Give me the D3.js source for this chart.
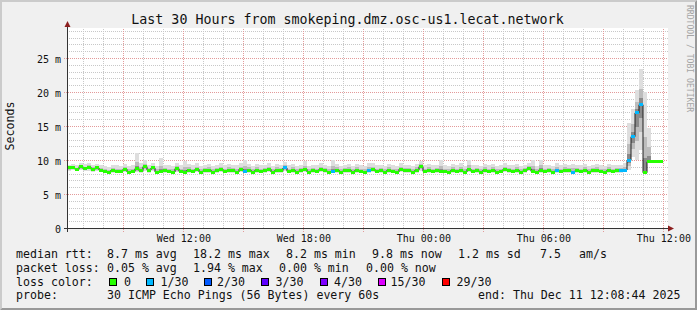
<!DOCTYPE html>
<html>
<head>
<meta charset="utf-8">
<script src="https://cdn.jsdelivr.net/npm/d3@7"></script>
<style>
  html, body { margin: 0; padding: 0; background: #f0f0f0; }
  svg { display: block; font-family: "DejaVu Sans Mono", monospace; }
</style>
</head>
<body>
<script>
// median rtt per 12 minute bin (ms)
var median = [
  8.9, 8.9, 8.7, 9.1, 8.8, 9.0, 8.7, 8.9, 8.6, 8.4,
  8.3, 8.6, 8.4, 8.4, 8.7, 8.3, 8.4, 8.8, 8.5, 9.1,
  8.6, 8.9, 8.3, 8.4, 8.5, 8.4, 8.3, 8.8, 8.4, 8.3,
  8.6, 8.4, 8.7, 8.3, 8.5, 8.6, 8.3, 8.5, 8.7, 8.4,
  8.6, 8.5, 8.3, 8.7, 8.4, 8.6, 8.3, 8.6, 8.4, 8.5,
  8.7, 8.3, 8.6, 8.5, 8.9, 8.4, 8.6, 8.3, 8.5, 8.7,
  8.3, 8.5, 8.4, 8.7, 8.5, 8.3, 8.4, 8.6, 8.3, 8.5,
  8.6, 8.3, 8.6, 8.4, 8.3, 8.5, 8.7, 8.4, 8.5, 8.3,
  8.6, 8.4, 8.3, 8.7, 8.5, 8.5, 8.3, 8.6, 9.1, 8.4,
  8.6, 8.4, 8.5, 8.4, 8.4, 8.3, 8.6, 8.4, 8.5, 8.3,
  8.7, 8.4, 8.5, 8.3, 8.6, 8.4, 8.6, 8.3, 8.4, 8.7,
  8.5, 8.4, 8.6, 8.3, 8.5, 8.8, 8.4, 8.3, 8.6, 8.4,
  8.5, 8.3, 8.5, 8.4, 8.6, 8.5, 8.3, 8.5, 8.4, 8.6,
  8.3, 8.5, 8.6, 8.4, 8.3, 8.6, 8.4, 8.5, 8.5, 8.6,
  10.0, 13.5, 17.0, 18.2, 8.2, 9.8, 9.8, 9.8, 9.8
];
// fastest ping per bin (ms)
var smokeLo = [
  8.5, 8.6, 8.4, 8.6, 8.4, 8.5, 8.3, 8.5, 8.3, 8.1,
  8.1, 8.2, 8.1, 8.1, 8.3, 8.0, 8.1, 8.3, 8.2, 8.4,
  8.2, 8.4, 8.1, 8.1, 8.2, 8.1, 8.0, 8.3, 8.1, 8.1,
  8.2, 8.1, 8.3, 8.1, 8.2, 8.2, 8.0, 8.2, 8.3, 8.1,
  8.2, 8.2, 8.0, 8.3, 8.1, 8.2, 8.1, 8.2, 8.1, 8.2,
  8.3, 8.1, 8.2, 8.2, 8.4, 8.1, 8.2, 8.0, 8.2, 8.3,
  8.1, 8.2, 8.1, 8.3, 8.2, 8.0, 8.1, 8.2, 8.1, 8.2,
  8.2, 8.0, 8.2, 8.1, 8.1, 8.2, 8.3, 8.1, 8.2, 8.0,
  8.2, 8.1, 8.0, 8.3, 8.2, 8.2, 8.1, 8.2, 8.5, 8.1,
  8.2, 8.1, 8.2, 8.1, 8.1, 8.0, 8.2, 8.1, 8.2, 8.1,
  8.3, 8.1, 8.2, 8.0, 8.2, 8.1, 8.2, 8.1, 8.1, 8.3,
  8.2, 8.1, 8.2, 8.1, 8.2, 8.4, 8.1, 8.0, 8.2, 8.1,
  8.2, 8.1, 8.2, 8.1, 8.2, 8.2, 8.0, 8.2, 8.1, 8.2,
  8.1, 8.2, 8.2, 8.1, 8.0, 8.2, 8.1, 8.2, 8.2, 8.3,
  8.6, 10.5, 10.0, 11.6, 8.0, 9.7, 9.7, 9.7, 9.7
];
// slowest ping per bin (ms)
var smokeHi = [
  9.4, 9.5, 9.3, 9.6, 9.5, 9.6, 9.4, 9.5, 9.3, 9.2,
  9.1, 9.4, 9.3, 9.2, 9.5, 9.2, 9.3, 11.1, 9.6, 10.1,
  9.4, 9.6, 9.2, 10.3, 9.4, 9.3, 9.2, 9.6, 9.3, 9.9,
  9.5, 9.3, 9.6, 9.2, 9.4, 9.5, 9.2, 9.4, 9.6, 9.3,
  9.5, 9.4, 9.3, 9.6, 10.0, 9.5, 9.2, 9.5, 9.3, 9.4,
  9.6, 9.2, 9.5, 9.4, 9.8, 9.3, 9.5, 9.2, 9.4, 9.9,
  9.2, 9.4, 9.3, 9.6, 9.4, 9.2, 10.0, 9.5, 9.2, 9.4,
  9.5, 9.2, 9.5, 9.3, 9.2, 9.7, 9.6, 9.3, 9.4, 9.2,
  9.5, 9.3, 9.2, 9.6, 9.4, 9.4, 9.2, 9.5, 9.9, 9.3,
  9.5, 9.3, 9.4, 10.1, 9.3, 9.2, 9.5, 9.3, 9.7, 9.2,
  10.1, 9.3, 9.4, 9.2, 9.5, 9.3, 9.5, 9.2, 9.3, 9.6,
  9.4, 9.3, 9.5, 9.2, 9.4, 9.7, 10.1, 9.2, 10.1, 9.3,
  9.4, 9.2, 9.6, 9.3, 9.5, 9.4, 9.5, 9.4, 9.3, 9.5,
  9.2, 9.4, 9.5, 9.3, 9.2, 9.5, 9.3, 9.4, 9.4, 9.6,
  15.5, 17.5, 20.4, 23.4, 20.0, 14.8, 10.0, 9.9, 9.9
];
// bins that lost pings, and how many of 30
var lossBin = [44, 54, 66, 75, 122, 126, 138, 139, 140, 141, 142, 143];
var lossPings = [1, 1, 1, 1, 1, 1, 1, 1, 1, 1, 1, 1];

var lossLevels = [0, 1, 2, 3, 4, 15, 29];
var lossLabels = ["0", "1/30", "2/30", "3/30", "4/30", "15/30", "29/30"];
var lossColors = ["#26ff00", "#00b8ff", "#0059ff", "#5e00ff", "#7e00ff", "#dd00ff", "#ff0000"];

var yTicks = [0, 5, 10, 15, 20, 25];

width = 697;
height = 310;
plot_left = 67;
plot_right = 667;
plot_top = 28.5;
plot_bottom = 228.5;

var t_start = new Date(2025, 11, 10, 6, 11);
var t_end = new Date(2025, 11, 11, 12, 11);
var bin_ms = 12 * 60 * 1000;

x = d3.scaleTime().domain([t_start, t_end]).range([plot_left, plot_right]);
y = d3.scaleLinear().domain([0, 29.41]).range([plot_bottom, plot_top]);
lossColor = d3.scaleThreshold().domain(lossLevels.slice(1)).range(lossColors);

var lossOf = {};
lossBin.forEach(function (b, i) { lossOf[b] = lossPings[i]; });

var bins = median.map(function (m, i) {
  var t = new Date(+t_start + i * bin_ms);
  return { t: t, t1: new Date(+t + bin_ms), med: m, lo: smokeLo[i], hi: smokeHi[i], loss: lossOf[i] || 0 };
});

const svg = d3.select("body").append("svg")
  .attr("width", width).attr("height", height);

// background + 3d shading
svg.append("rect").attr("width", width).attr("height", height).attr("fill", "#f0f0f0");
svg.append("path").attr("d", "M0,0H697L695,2H2V308L0,310Z").attr("fill", "#cbcbcb");
svg.append("path").attr("d", "M697,0V310H0L2,308H695V2Z").attr("fill", "#999999");

svg.append("rect")
  .attr("x", plot_left).attr("y", plot_top - 0.5)
  .attr("width", plot_right - plot_left + 1).attr("height", plot_bottom - plot_top + 0.5)
  .attr("fill", "#ffffff");

// grid
const grid = svg.append("g").attr("shape-rendering", "crispEdges");
function gx(t) { return Math.floor(x(t)) + 0.5; }

var hours = d3.timeHour.every(1).range(t_start, t_end);
var major_hours = d3.timeHour.every(3).range(t_start, t_end);
var label_hours = d3.timeHour.every(6).range(t_start, t_end);
var minor_ms = d3.range(1, 30).filter(function (v) { return v % 5; });
var major_ms = yTicks.filter(function (v) { return v > 0; });

grid.selectAll(".vminor").data(hours.filter(function (t) { return t.getHours() % 3; }))
  .join("line")
  .attr("x1", gx).attr("x2", gx)
  .attr("y1", plot_top).attr("y2", plot_bottom)
  .attr("stroke", "#c8c8c8").attr("stroke-dasharray", "1,1");
grid.selectAll(".hminor").data(minor_ms)
  .join("line")
  .attr("x1", plot_left).attr("x2", plot_right + 1)
  .attr("y1", function (d) { return y(d); }).attr("y2", function (d) { return y(d); })
  .attr("stroke", "#c8c8c8").attr("stroke-dasharray", "1,1");
grid.selectAll(".vmajor").data(major_hours)
  .join("line")
  .attr("x1", gx).attr("x2", gx)
  .attr("y1", plot_top).attr("y2", plot_bottom + 3)
  .attr("stroke", "#e39a9a").attr("stroke-dasharray", "1,1");
grid.selectAll(".hmajor").data(major_ms)
  .join("line")
  .attr("x1", plot_left - 3).attr("x2", plot_right + 1)
  .attr("y1", function (d) { return y(d); }).attr("y2", function (d) { return y(d); })
  .attr("stroke", "#e39a9a").attr("stroke-dasharray", "1,1");

// smoke
const smoke = svg.append("g").attr("shape-rendering", "crispEdges");
function bx(d) { return x(d.t); }
function bw(d) { return x(d.t1) - x(d.t); }
smoke.selectAll(".outer").data(bins).join("rect")
  .attr("x", bx).attr("width", bw)
  .attr("y", function (d) { return y(d.hi); })
  .attr("height", function (d) { return y(d.lo) - y(d.hi); })
  .attr("fill", "#dedede");
smoke.selectAll(".mid").data(bins).join("rect")
  .attr("x", bx).attr("width", bw)
  .attr("y", function (d) { return y(d.med + (d.hi - d.med) * 0.45); })
  .attr("height", function (d) { return y(d.med - (d.med - d.lo) * 0.6) - y(d.med + (d.hi - d.med) * 0.45); })
  .attr("fill", "#bcbcbc");
smoke.selectAll(".inner").data(bins).join("rect")
  .attr("x", bx).attr("width", bw)
  .attr("y", function (d) { return y(d.med + (d.hi - d.med) * 0.18); })
  .attr("height", function (d) { return y(d.med - (d.med - d.lo) * 0.3) - y(d.med + (d.hi - d.med) * 0.18); })
  .attr("fill", "#8a8a8a");

// median line
var line_pts = bins.map(function (d) { return [x(d.t), y(d.med)]; });
line_pts.push([x(bins[bins.length - 1].t1), y(bins[bins.length - 1].med)]);
svg.append("path")
  .attr("d", d3.line().curve(d3.curveStepAfter)(line_pts))
  .attr("fill", "none").attr("stroke", "#202020").attr("stroke-width", 1);

// loss coloured median band
svg.append("g").attr("shape-rendering", "crispEdges")
  .selectAll("rect").data(bins).join("rect")
  .attr("x", bx).attr("width", bw)
  .attr("y", function (d) { return y(d.med) - 1.5; })
  .attr("height", 3)
  .attr("fill", function (d) { return lossColor(d.loss); });

// axes lines + arrows
svg.append("line").attr("x1", plot_left - 3).attr("x2", plot_right + 3)
  .attr("y1", plot_bottom).attr("y2", plot_bottom)
  .attr("stroke", "#333").attr("shape-rendering", "crispEdges");
svg.append("line").attr("x1", plot_left + 0.5).attr("x2", plot_left + 0.5)
  .attr("y1", plot_bottom + 3).attr("y2", plot_top - 2)
  .attr("stroke", "#333").attr("shape-rendering", "crispEdges");
svg.append("path").attr("d", "M668,225.5L674,228.5L668,231.5Z").attr("fill", "#8c1f1f");
svg.append("path").attr("d", "M64.5,27L67.5,21L70.5,27Z").attr("fill", "#8c1f1f");

// tick labels
const xAxis = d3.axisBottom(x).tickValues(label_hours)
  .tickFormat(d3.timeFormat("%a %H:%M")).tickSize(0);
const gX = svg.append("g").attr("transform", "translate(0," + plot_bottom + ")").call(xAxis);
gX.select(".domain").remove();
gX.selectAll("text").attr("y", 13).attr("dy", 0)
  .attr("font-family", "DejaVu Sans Mono").attr("font-size", "10px").attr("fill", "#111");

const yAxis = d3.axisLeft(y).tickValues(yTicks)
  .tickFormat(function (d) { return d ? d + " m" : "0"; }).tickSize(0);
const gY = svg.append("g").attr("transform", "translate(61,0)").call(yAxis);
gY.select(".domain").remove();
gY.selectAll("text").attr("x", 0).attr("dy", "0.36em")
  .attr("font-family", "DejaVu Sans Mono").attr("font-size", "10px").attr("fill", "#111");

// title, y label, watermark
svg.append("text").attr("x", 347.5).attr("y", 24).attr("text-anchor", "middle")
  .attr("font-size", "13.3px").attr("fill", "#111")
  .text("Last 30 Hours from smokeping.dmz.osc-us1.lecat.network");
svg.append("text").attr("transform", "translate(14,126) rotate(-90)")
  .attr("text-anchor", "middle").attr("font-size", "11.6px").attr("fill", "#111")
  .text("Seconds");
svg.append("text").attr("transform", "translate(686.5,5) rotate(90)")
  .attr("font-size", "8.1px").attr("fill", "#a4a4a4")
  .text("RRDTOOL / TOBI OETIKER");

// legend
var legend_rows = [
  [[16, "median rtt:"], [107, "8.7 ms avg"], [193, "18.2 ms max"], [286, "8.2 ms min"],
   [372, "9.8 ms now"], [458, "1.2 ms sd"], [540, "7.5"], [579, "am/s"]],
  [[16, "packet loss:"], [107, "0.05 % avg"], [193, "1.94 % max"], [279, "0.00 % min"], [366, "0.00 % now"]],
  [[16, "loss color:"]],
  [[16, "probe:"], [107, "30 ICMP Echo Pings (56 Bytes) every 60s"], [478, "end: Thu Dec 11 12:08:44 2025"]]
];
var row_y = [258.3, 272, 285.7, 299.4];
const legend = svg.append("g").attr("font-size", "11.6px").attr("fill", "#111");
legend_rows.forEach(function (row, r) {
  legend.selectAll(".r" + r).data(row).join("text")
    .attr("x", function (d) { return d[0]; }).attr("y", row_y[r])
    .text(function (d) { return d[1]; });
});
var box_x = [108.5, 146, 203.5, 261, 320, 377.5, 442];
var lab_x = [124, 160.5, 217, 275.5, 334, 390.5, 456.5];
legend.selectAll(".lbox").data(lossColors).join("rect")
  .attr("x", function (d, i) { return box_x[i] + 0.5; }).attr("y", 278.5)
  .attr("width", 7).attr("height", 7)
  .attr("fill", function (d) { return d; })
  .attr("stroke", "#000").attr("shape-rendering", "crispEdges");
legend.selectAll(".llab").data(lossLabels).join("text")
  .attr("x", function (d, i) { return lab_x[i]; }).attr("y", row_y[2])
  .text(function (d) { return d; });
</script>
</body>
</html>
